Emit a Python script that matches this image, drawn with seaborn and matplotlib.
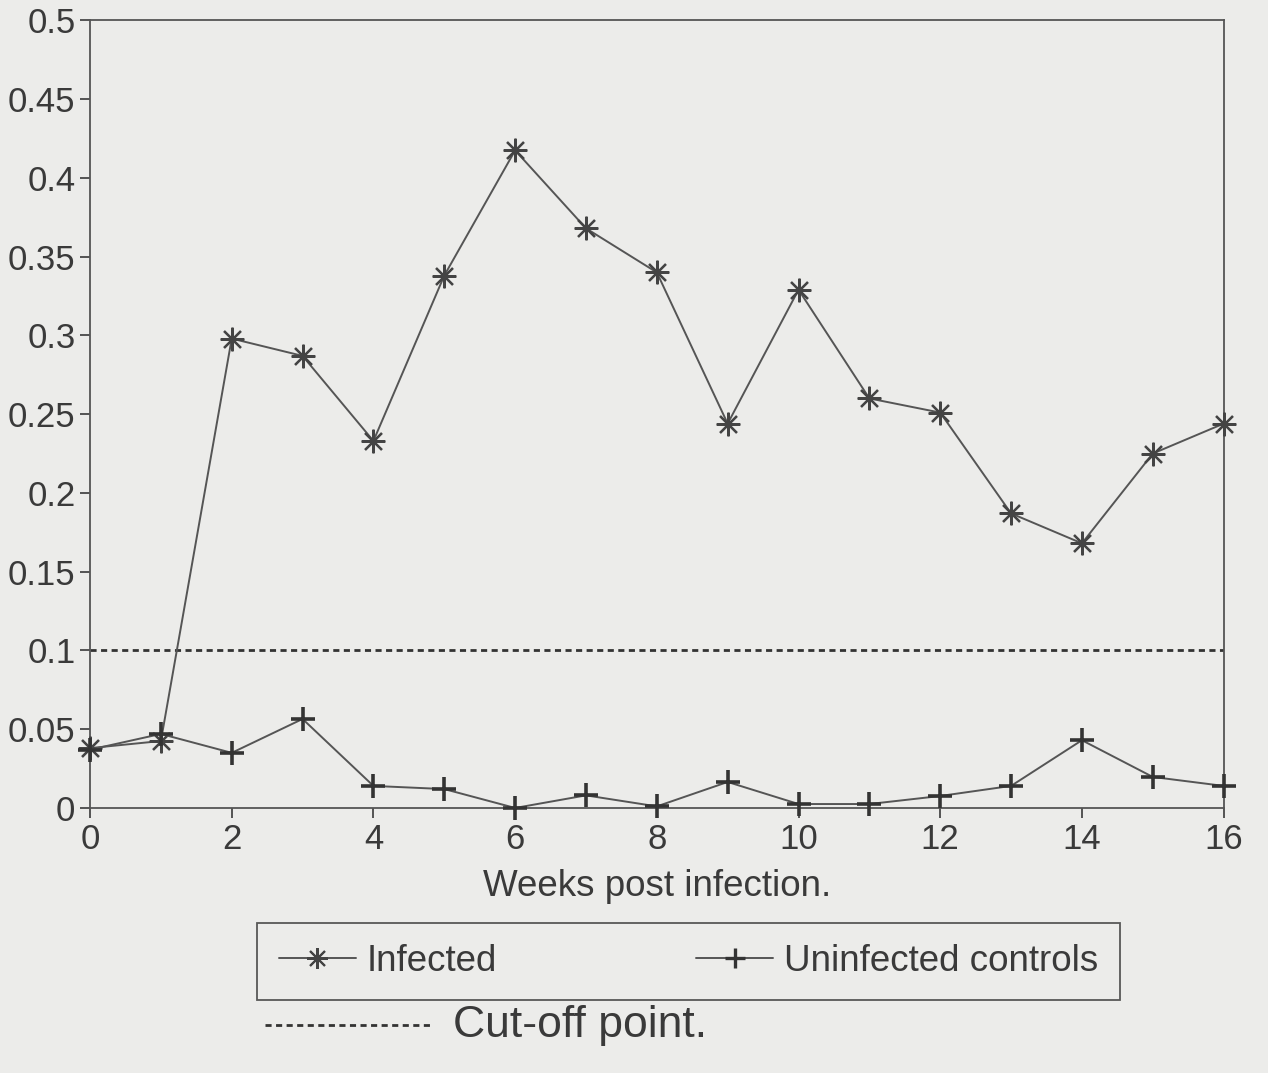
import matplotlib
matplotlib.use("Agg")
import matplotlib.pyplot as plt
from matplotlib.lines import Line2D
import seaborn as sns
import pandas as pd
import numpy as np

weeks = list(range(17))
infected = [0.038, 0.0425, 0.298, 0.287, 0.233, 0.338, 0.4175, 0.368, 0.340,
            0.244, 0.329, 0.260, 0.251, 0.187, 0.168, 0.225, 0.244]
uninfected = [0.037, 0.047, 0.035, 0.0565, 0.014, 0.012, 0.0, 0.008, 0.001,
              0.0165, 0.0025, 0.0025, 0.0076, 0.014, 0.043, 0.0197, 0.014]
cutoff = 0.1
series_names = ["Infected", "Uninfected controls"]
x_label = "Weeks post infection."
cutoff_label = "Cut-off point."
x_ticks = list(range(0, 17, 2))
y_ticks = [0, 0.05, 0.1, 0.15, 0.2, 0.25, 0.3, 0.35, 0.4, 0.45, 0.5]
y_tick_labels = ["0", "0.05", "0.1", "0.15", "0.2", "0.25", "0.3", "0.35", "0.4", "0.45", "0.5"]

sns.set_theme(style="white")
plt.rcParams['font.family'] = ['Liberation Sans', 'DejaVu Sans']

bg = "#ececea"
ink = "#3a3a3a"
fig = plt.figure(figsize=(12.68, 10.73), dpi=100, facecolor=bg)
ax = fig.add_axes([0.071, 0.247, 0.894, 0.734])
ax.set_facecolor(bg)

df = pd.DataFrame({
    "week": weeks * 2,
    "value": infected + uninfected,
    "series": [series_names[0]] * len(weeks) + [series_names[1]] * len(weeks),
})

sns.lineplot(data=df[df.series == series_names[0]], x="week", y="value", ax=ax,
             color="#555555", linewidth=1.4, marker=(8, 2, 0), markersize=17,
             markeredgewidth=1.6, markeredgecolor="#444444", label=series_names[0],
             clip_on=False, zorder=3)
sns.lineplot(data=df[df.series == series_names[1]], x="week", y="value", ax=ax,
             color="#555555", linewidth=1.4, marker="+", markersize=17,
             markeredgewidth=2.6, markeredgecolor="#333333", label=series_names[1],
             clip_on=False, zorder=3)
ax.plot([0, 16], [cutoff, cutoff], color="#333333", linewidth=2.0,
        linestyle=(0, (2.2, 1.6)))

ax.set_xlim(0, 16)
ax.set_ylim(0, 0.5)
ax.set_xticks(x_ticks)
ax.set_yticks(y_ticks)
ax.set_yticklabels(y_tick_labels)
ax.tick_params(axis="both", direction="out", length=7, width=1.2, color=ink,
               labelsize=25, labelcolor=ink, bottom=True, left=True)
ax.set_xlabel(x_label, fontsize=26.5, color=ink, labelpad=10)
ax.set_ylabel("")
for s in ax.spines.values():
    s.set_color("#555555")
    s.set_linewidth(1.3)

ax.get_legend().remove()
handles = [
    Line2D([], [], color="#555555", linewidth=1.4, marker=(8, 2, 0), markersize=15,
           markeredgewidth=1.5, markeredgecolor="#444444"),
    Line2D([], [], color="#555555", linewidth=1.4, marker="+", markersize=15,
           markeredgewidth=2.4, markeredgecolor="#333333"),
]
leg = fig.legend(handles, series_names, loc="center", bbox_to_anchor=(0.543, 0.104),
                 ncol=2, fontsize=26.5, frameon=True, fancybox=False, handlelength=2.1,
                 handletextpad=0.3, columnspacing=5.4, borderpad=0.58,
                 labelcolor=ink)
leg.get_frame().set_edgecolor("#333333")
leg.get_frame().set_linewidth(1.3)
leg.get_frame().set_facecolor(bg)

fig.add_artist(Line2D([265 / 1268, 432 / 1268], [1 - 1025 / 1073, 1 - 1025 / 1073],
                      transform=fig.transFigure, color="#333333", linewidth=2.0,
                      linestyle=(0, (2.2, 1.6))))
fig.text(453 / 1268, 1 - 1025 / 1073, cutoff_label, fontsize=32, color=ink,
         va="center", ha="left")

fig.savefig("out.png", dpi=100, facecolor=bg)
